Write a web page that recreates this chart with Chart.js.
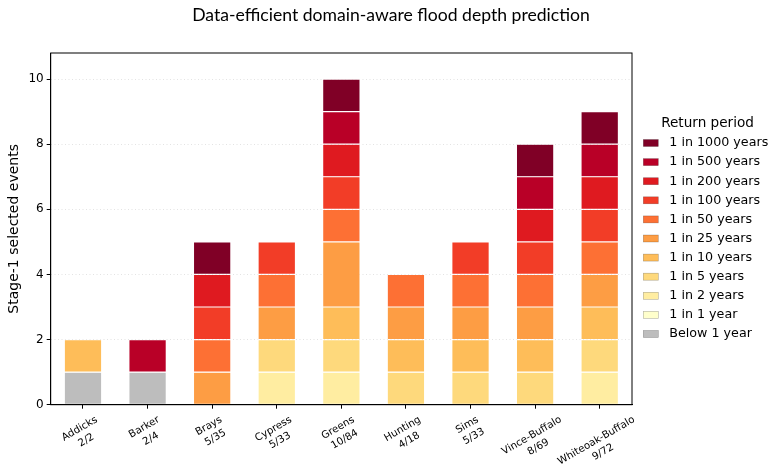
<!DOCTYPE html>
<html><head><meta charset="utf-8">
<script src="https://cdn.jsdelivr.net/npm/chart.js@4.4.0/dist/chart.umd.min.js"></script>
<style>html,body{margin:0;padding:0;background:#fff}</style>
</head><body>
<canvas id="c" width="777" height="472" style="width:777px;height:472px;display:block"></canvas>
<script>
// ---- data ----
const chartTitle = "Data-efficient domain-aware flood depth prediction";
const catchments = ["Addicks","Barker","Brays","Cypress","Greens","Hunting","Sims","Vince-Buffalo","Whiteoak-Buffalo"];
const selectedOfTotal = ["2/2","2/4","5/35","5/33","10/84","4/18","5/33","8/69","9/72"];
const periods = ["Below 1 year","1 in 1 year","1 in 2 years","1 in 5 years","1 in 10 years","1 in 25 years","1 in 50 years","1 in 100 years","1 in 200 years","1 in 500 years","1 in 1000 years"];
const below1 = [1,1,0,0,0,0,0,0,0];
const rp1    = [0,0,0,0,0,0,0,0,0];
const rp2    = [0,0,0,1,1,0,0,0,1];
const rp5    = [0,0,0,1,1,1,1,1,1];
const rp10   = [1,0,0,0,1,1,1,1,1];
const rp25   = [0,0,1,1,2,1,1,1,1];
const rp50   = [0,0,1,1,1,1,1,1,1];
const rp100  = [0,0,1,1,1,0,1,1,1];
const rp200  = [0,0,1,0,1,0,0,1,1];
const rp500  = [0,1,0,0,1,0,0,1,1];
const rp1000 = [0,0,1,0,1,0,0,1,1];
const yTicks = [0,2,4,6,8,10];

const seriesValues = [below1,rp1,rp2,rp5,rp10,rp25,rp50,rp100,rp200,rp500,rp1000];
const colors = ["#bdbdbd","#ffffcc","#ffeda1","#fed97c","#febd59","#fd9d44","#fd7034","#f23d27","#df1a20","#b90027","#800026"];

const datasets = periods.map((p,i)=>({
  label: p,
  data: seriesValues[i].map(v => v === 0 ? null : v),
  backgroundColor: colors[i],
  borderColor: "rgba(255,255,255,0.85)",
  borderWidth: 0.6,
  borderSkipped: false,
  categoryPercentage: 1.0,
  barPercentage: 0.58
}));

const FONT = "'DejaVu Sans', sans-serif";

const framePlugin = {
  id: "frame",
  afterDatasetsDraw(chart){
    const {ctx, chartArea:a} = chart;
    ctx.save();
    ctx.strokeStyle = "#000";
    ctx.lineWidth = 1;
    ctx.strokeRect(a.left, a.top, a.right - a.left, a.bottom - a.top);
    ctx.restore();
  }
};

const titlePlugin = {
  id: "figTitle",
  afterDraw(chart){
    const ctx = chart.ctx;
    ctx.save();
    ctx.fillStyle = "#000";
    ctx.textAlign = "center";
    ctx.textBaseline = "middle";
    ctx.font = "17.6px Lato, 'DejaVu Sans', sans-serif";
    ctx.fillText(chartTitle, 391, 15);
    ctx.restore();
  }
};

const xLabelPlugin = {
  id: "xlabels",
  afterDraw(chart){
    const {ctx, chartArea:a} = chart;
    const xs = chart.scales.x;
    const fs = 10.2;
    const lh = fs * 1.3;
    const ang = 30 * Math.PI / 180;
    ctx.save();
    ctx.font = fs + "px " + FONT;
    ctx.fillStyle = "#000";
    ctx.textAlign = "center";
    ctx.textBaseline = "middle";
    catchments.forEach((name, i) => {
      const lines = [name, selectedOfTotal[i]];
      const w = Math.max(...lines.map(l => ctx.measureText(l).width));
      const h = lines.length * lh;
      const H = w * Math.sin(ang) + h * Math.cos(ang);
      const x = xs.getPixelForValue(i);
      const top = a.bottom + 4 + 4.5;
      const cy = top + H / 2;
      ctx.save();
      ctx.translate(x, cy);
      ctx.rotate(-ang);
      lines.forEach((l, k) => {
        ctx.fillText(l, 0, (k - (lines.length - 1) / 2) * lh);
      });
      ctx.restore();
    });
    ctx.restore();
  }
};

const legendPlugin = {
  id: "customLegend",
  afterDraw(chart){
    const ctx = chart.ctx;
    ctx.save();
    ctx.fillStyle = "#000";
    ctx.textBaseline = "middle";
    ctx.textAlign = "center";
    ctx.font = "13.6px " + FONT;
    ctx.fillText("Return period", 707.5, 123.5);
    ctx.textAlign = "left";
    ctx.font = "12.7px " + FONT;
    const order = periods.map((p,i)=>i).reverse();
    order.forEach((di, k) => {
      const cy = 143 + k * 19.1;
      ctx.fillStyle = colors[di];
      ctx.fillRect(643.3, cy - 3.5, 15, 7);
      ctx.strokeStyle = "rgba(0,0,0,0.3)";
      ctx.lineWidth = 0.6;
      ctx.strokeRect(643.3, cy - 3.5, 15, 7);
      ctx.fillStyle = "#000";
      ctx.fillText(periods[di], 669.3, cy);
    });
    ctx.restore();
  }
};

new Chart(document.getElementById("c"), {
  type: "bar",
  data: { labels: catchments, datasets },
  plugins: [framePlugin, titlePlugin, xLabelPlugin, legendPlugin],
  options: {
    responsive: false,
    animation: false,
    devicePixelRatio: 1,
    layout: { padding: { left: 0, right: 145, top: 53, bottom: 0 } },
    plugins: {
      legend: { display: false },
      tooltip: { enabled: false },
      title: { display: false }
    },
    scales: {
      x: {
        stacked: true,
        offset: true,
        grid: { display: true, drawOnChartArea: false, drawTicks: true, tickLength: 4, tickColor: "#000", tickWidth: 1, offset: false },
        border: { display: true, color: "#000", width: 1 },
        ticks: { display: false },
        afterFit(s){ s.height = 67.3; }
      },
      y: {
        stacked: true,
        min: 0,
        max: 10.8,
        afterBuildTicks(s){ s.ticks = yTicks.map(v => ({value: v})); },
        grid: { color: "#dcdcdc", lineWidth: 0.8, drawTicks: true, tickLength: 4, tickColor: "#000", tickWidth: 1, tickBorderDash: [] },
        border: { display: true, color: "#000", width: 1, dash: [1, 2.5] },
        ticks: { color: "#000", font: { family: FONT, size: 12 }, padding: 3, stepSize: 2 },
        title: { display: true, text: "Stage-1 selected events", color: "#000", font: { family: FONT, size: 14 }, padding: { top: 5.5, bottom: 0 } },
        afterFit(s){ s.width = 50.7; }
      }
    }
  }
});
</script>
</body></html>
